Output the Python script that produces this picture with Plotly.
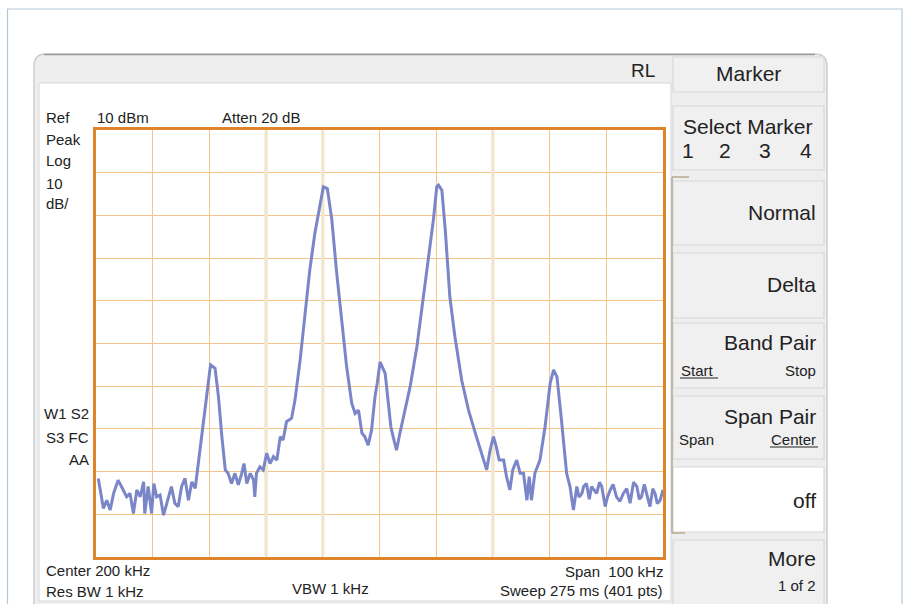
import plotly.graph_objects as go

# ---------------- data ----------------
freq_khz = [150.4, 151.3, 151.9, 152.5, 153.1, 153.9, 154.8, 155.4, 156.0, 156.6,
            157.2, 157.8, 158.4, 158.6, 159.2, 159.8, 160.2, 160.7, 161.3, 161.9,
            162.5, 163.3, 163.9, 164.5, 165.1, 165.7, 166.3, 166.9, 167.5, 167.9,
            168.9, 169.8, 170.2, 171.0, 171.6, 172.2, 172.8, 173.3, 173.9, 174.5,
            175.1, 175.7, 176.1, 176.6, 177.2, 177.8, 178.0, 178.3, 178.9, 179.5,
            180.1, 180.7, 181.3, 181.9, 182.5, 183.0, 183.6, 184.5, 185.1, 186.0,
            186.9, 187.7, 188.6, 189.5, 190.1, 190.8, 191.6, 192.4, 193.3, 194.2,
            195.1, 195.7, 196.3, 196.9, 197.4, 198.0, 198.6, 199.2, 199.6, 200.1,
            201.0, 201.6, 202.0, 202.4, 203.0, 203.6, 204.2, 205.4, 206.6, 207.7,
            208.6, 209.5, 210.1, 210.4, 211.0, 211.6, 212.4, 213.3, 214.5, 215.7,
            216.9, 218.0, 218.9, 219.5, 220.1, 220.6, 221.1, 221.9, 222.4, 223.0,
            223.5, 224.2, 224.8, 225.4, 226.0, 226.4, 226.8, 227.4, 228.3, 229.2,
            230.1, 230.7, 231.3, 232.1, 233.0, 233.6, 234.2, 234.8, 235.2, 235.7,
            236.0, 236.5, 237.0, 237.4, 238.3, 238.8, 239.2, 239.8, 240.2, 240.7,
            241.2, 241.8, 242.4, 243.0, 243.6, 244.2, 244.8, 245.4, 245.8, 246.2,
            246.7, 247.1, 247.7, 248.2, 248.6, 249.0, 249.5, 250.0]
level_dbm = [-71.6, -78.6, -76.7, -79.0, -75.1, -72.0, -74.3, -75.9, -75.1, -79.8,
             -74.3, -75.9, -72.4, -79.8, -73.5, -79.8, -72.8, -75.9, -75.5, -80.2,
             -77.4, -73.5, -77.4, -78.2, -73.5, -71.6, -76.7, -72.4, -73.9, -69.6,
             -57.9, -48.6, -45.0, -45.8, -52.5, -61.8, -69.6, -70.4, -72.8, -70.4,
             -73.1, -70.4, -68.1, -72.8, -70.4, -72.0, -75.9, -70.4, -68.9, -69.6,
             -65.7, -68.1, -66.5, -67.3, -61.8, -62.6, -58.3, -57.5, -53.2, -43.9,
             -32.2, -22.8, -14.2, -8.0, -3.3, -3.7, -11.1, -22.8, -34.5, -45.4,
             -54.0, -56.4, -55.6, -61.0, -61.8, -63.8, -60.3, -52.5, -49.3, -44.3,
             -47.0, -54.0, -59.5, -61.8, -65.0, -61.0, -57.1, -50.1, -40.7, -29.8,
             -20.4, -11.1, -3.3, -2.9, -4.1, -13.4, -29.0, -38.4, -48.6, -55.6,
             -61.0, -65.7, -69.6, -65.0, -61.8, -64.2, -67.3, -67.3, -71.2, -74.3,
             -69.6, -67.3, -70.4, -70.4, -76.7, -71.2, -76.7, -70.4, -67.3, -59.5,
             -49.3, -46.2, -47.8, -58.0, -70.4, -73.5, -79.0, -73.5, -76.0, -75.1,
             -73.5, -72.8, -76.5, -73.5, -75.1, -72.5, -73.5, -78.2, -76.0, -74.3,
             -73.0, -75.9, -77.0, -75.1, -74.0, -77.4, -72.5, -73.5, -76.5, -75.9,
             -73.0, -75.1, -78.2, -74.0, -75.1, -77.5, -76.7, -74.3]

x_range = [150, 250]      # Center 200 kHz, Span 100 kHz
y_range = [-90, 10]       # Ref 10 dBm, 10 dB/div
wide_grid_khz = [180, 190, 220]

W, H = 908, 604
FONT = "Liberation Sans, Arial, Helvetica, sans-serif"
TXT = "#222222"
KEY = 21


def px(x):
    return x / W


def py(y):
    return 1 - y / H


fig = go.Figure()
fig.add_trace(go.Scatter(x=freq_khz, y=level_dbm, mode="lines",
                         line=dict(color="#7b86c8", width=3),
                         hoverinfo="skip", showlegend=False))

shapes = []
# outer light-blue frame
shapes.append(dict(type="rect", xref="paper", yref="paper", layer="below",
                   x0=px(7.5), x1=px(902), y0=py(620), y1=py(9),
                   line=dict(color="#b3c7d9", width=1.2), fillcolor="white"))
# instrument panel with rounded top corners
x0, x1, y0, y1, r = 34, 827, 54, 620, 12
path = (f"M {px(x0)},{py(y1)} L {px(x0)},{py(y0 + r)} "
        f"Q {px(x0)},{py(y0)} {px(x0 + r)},{py(y0)} "
        f"L {px(x1 - r)},{py(y0)} Q {px(x1)},{py(y0)} {px(x1)},{py(y0 + r)} "
        f"L {px(x1)},{py(y1)} Z")
shapes.append(dict(type="path", xref="paper", yref="paper", layer="below",
                   path=path, fillcolor="#eeeeee", line=dict(color="#cdcdcd", width=1.5)))
# darker top rule
shapes.append(dict(type="line", xref="paper", yref="paper", layer="below",
                   x0=px(44), x1=px(815), y0=py(54.5), y1=py(54.5),
                   line=dict(color="#9c9c9c", width=1.5)))
# white screen area
shapes.append(dict(type="rect", xref="paper", yref="paper", layer="below",
                   x0=px(39), x1=px(671), y0=py(601), y1=py(83),
                   fillcolor="white", line=dict(color="#d6d6d6", width=1)))
# softkey buttons
buttons = [(57, 92, "#f0f0f0"), (106, 170, "#f0f0f0"), (181, 245, "#f0f0f0"),
           (253, 318, "#f0f0f0"), (323, 388, "#f0f0f0"), (396, 459, "#f0f0f0"),
           (467, 532, "#ffffff"), (540, 620, "#f0f0f0")]
for t, b, c in buttons:
    shapes.append(dict(type="rect", xref="paper", yref="paper", layer="below",
                       x0=px(673), x1=px(824), y0=py(b), y1=py(t),
                       fillcolor=c, line=dict(color="#d8d8d8", width=1.2)))
# tan bracket next to the keys
for (ax0, ay0, ax1, ay1) in [(672, 177, 672, 533), (672, 177, 689, 177), (672, 533, 685, 533)]:
    shapes.append(dict(type="line", xref="paper", yref="paper", layer="below",
                       x0=px(ax0), x1=px(ax1), y0=py(ay0), y1=py(ay1),
                       line=dict(color="#b8a78f", width=1.5)))
# wider beige graticule lines (drawn over the orange grid, under the trace)
for xv in wide_grid_khz:
    shapes.append(dict(type="line", xref="x", yref="y", layer="between",
                       x0=xv, x1=xv, y0=y_range[0] + 0.3, y1=y_range[1] - 0.3,
                       line=dict(color="#f1e7d0", width=3.5)))
# underlines for "Start" and "Center"
shapes.append(dict(type="line", xref="paper", yref="paper",
                   x0=px(680), x1=px(718), y0=py(378), y1=py(378),
                   line=dict(color=TXT, width=1)))
shapes.append(dict(type="line", xref="paper", yref="paper",
                   x0=px(770), x1=px(818), y0=py(447), y1=py(447),
                   line=dict(color=TXT, width=1)))

ann = []


def text(s, x, y, size=15, anchor="left"):
    ann.append(dict(text=s, x=px(x), y=py(y), xref="paper", yref="paper",
                    xanchor=anchor, yanchor="middle", showarrow=False,
                    font=dict(family=FONT, size=size, color=TXT)))


# left / top instrument labels
text("Ref", 44, 117)
text("10 dBm", 95, 117)
text("Atten 20 dB", 220, 117)
text("Peak", 44, 139)
text("Log", 44, 161)
text("10", 44, 183)
text("dB/", 44, 204)
text("W1 S2", 91, 414, anchor="right")
text("S3 FC", 91, 437, anchor="right")
text("AA", 91, 459, anchor="right")
text("Center 200 kHz", 44, 570)
text("Res BW 1 kHz", 44, 591)
text("VBW 1 kHz", 330, 588, anchor="center")
text("Span  100 kHz", 665, 571, anchor="right")
text("Sweep 275 ms (401 pts)", 665, 590, anchor="right")
text("RL", 657, 70, size=19, anchor="right")

# softkey labels
text("Marker", 748, 74, size=KEY, anchor="center")
text("Select Marker", 748, 126, size=KEY, anchor="center")
for lab, xx in zip(["1", "2", "3", "4"], [688, 725, 765, 806]):
    text(lab, xx, 150, size=KEY, anchor="center")
text("Normal", 818, 212, size=KEY, anchor="right")
text("Delta", 818, 284, size=KEY, anchor="right")
text("Band Pair", 818, 342, size=KEY, anchor="right")
text("Start", 679, 370, size=15)
text("Stop", 818, 370, size=15, anchor="right")
text("Span Pair", 818, 416, size=KEY, anchor="right")
text("Span", 677, 439, size=15)
text("Center", 818, 439, size=15, anchor="right")
text("off", 818, 500, size=KEY, anchor="right")
text("More", 818, 558, size=KEY, anchor="right")
text("1 of 2", 818, 585, size=15, anchor="right")

axis_common = dict(showticklabels=False, ticks="", zeroline=False,
                   showgrid=True, gridcolor="#f4c48d", gridwidth=1.2,
                   showline=True, mirror=True, linecolor="#e0842c", linewidth=3,
                   fixedrange=True)

fig.update_layout(
    width=W, height=H, autosize=False,
    margin=dict(l=0, r=0, t=0, b=0),
    paper_bgcolor="white", plot_bgcolor="white",
    xaxis=dict(range=x_range, dtick=10, tick0=150,
               domain=[px(96), px(663)], **axis_common),
    yaxis=dict(range=y_range, dtick=10, tick0=-90,
               domain=[py(557), py(130)], **axis_common),
    shapes=shapes, annotations=ann, showlegend=False,
)

fig.write_html("out.html", config={"displayModeBar": False},
               post_script="document.body.style.margin='0';document.body.style.overflow='hidden';")
